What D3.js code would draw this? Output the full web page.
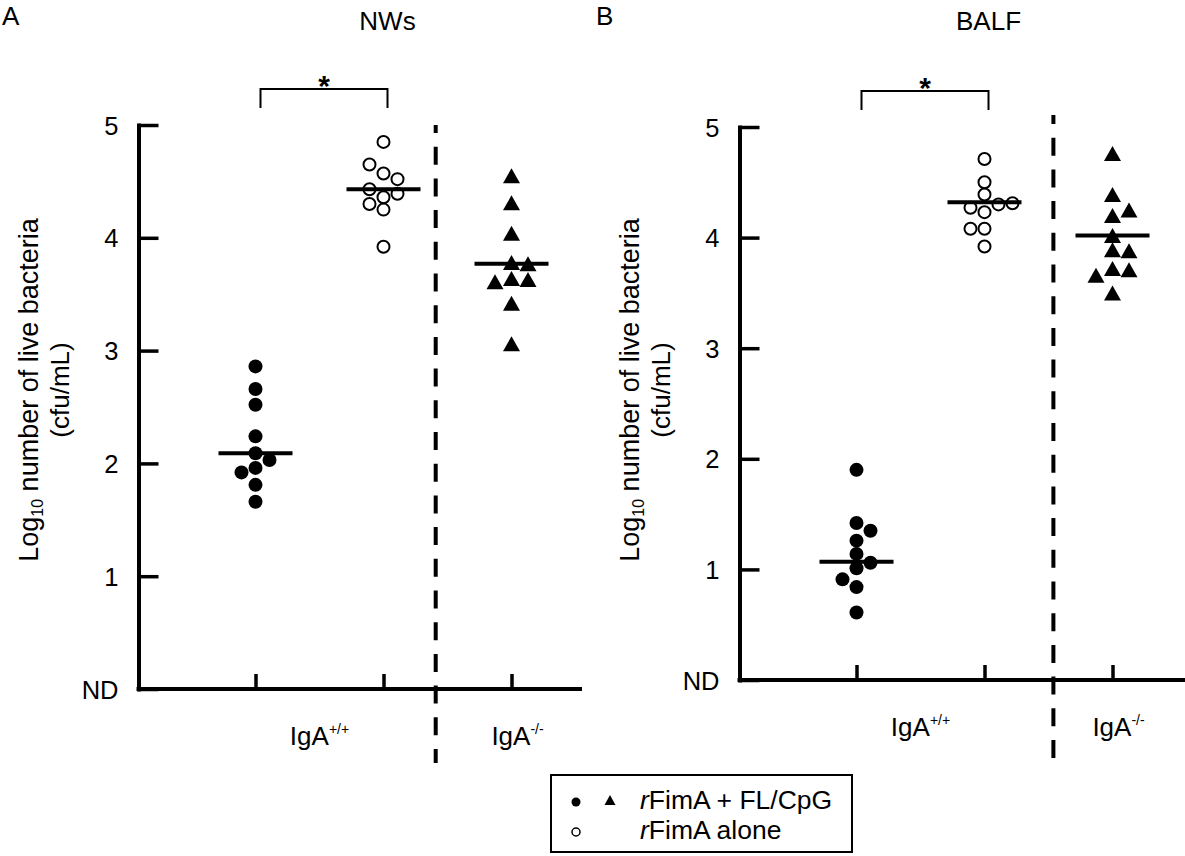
<!DOCTYPE html>
<html>
<head>
<meta charset="utf-8">
<script src="https://cdn.jsdelivr.net/npm/d3@7"></script>
<style>
  body { margin: 0; background: #fff; }
  svg { display: block; font-family: "Liberation Sans", Arial, Helvetica, sans-serif; }
</style>
</head>
<body>
<svg id="chart" width="1185" height="856"></svg>
<script>
// Groups along the x axis (same for both panels)
const groups = ["wt_flcpg", "wt_alone", "ko_flcpg"];
const yTicks = [0, 1, 2, 3, 4, 5]; // 0 is shown as ND
const panelLetters = ["A", "B"];
const panelTitles = ["NWs", "BALF"];
const genotypeSup = ["+/+", "-/-"];

// Panel A: nasal washes, log10 cfu/mL
const nwsFlCpg = [2.86, 2.66, 2.52, 2.24, 2.09, 2.03, 1.96, 1.92, 1.81, 1.66];
const nwsAlone = [4.85, 4.65, 4.57, 4.52, 4.43, 4.39, 4.36, 4.30, 4.25, 3.92];
const nwsKo = [4.55, 4.31, 4.04, 3.78, 3.77, 3.61, 3.64, 3.63, 3.42, 3.06];
const nwsMedians = [2.09, 4.43, 3.77];
// swarm column of each point (-1 left, 0 centre, 1 right ...)
const nwsFlCpgCol = [0, 0, 0, 0, 0, 1, 0, -1, 0, 0];
const nwsAloneCol = [0, -1, 0, 1, -1, 1, 0, -1, 0, 0];
const nwsKoCol = [0, 0, 0, 0, 1, -1, 0, 1, 0, 0];

// Panel B: BALF
const balfFlCpg = [1.90, 1.42, 1.35, 1.26, 1.14, 1.06, 1.01, 0.91, 0.84, 0.61];
const balfAlone = [4.71, 4.50, 4.39, 4.27, 4.23, 4.30, 4.31, 4.08, 4.08, 3.92];
const balfKo = [4.76, 4.39, 4.20, 4.25, 4.02, 3.89, 3.88, 3.66, 3.72, 3.71, 3.50];
const balfMedians = [1.07, 4.32, 4.02];
const balfFlCpgCol = [0, 0, 1, 0, 0, 1, 0, -1, 0, 0];
const balfAloneCol = [0, 0, 0, -1, 0, 1, 2, -1, 0, 0];
const balfKoCol = [0, 0, 0, 1, 0, 0, 1, -1, 0, 1, 0];

const legendLabels = ["FimA + FL/CpG", "FimA alone"];

const panelData = [
  { values: [nwsFlCpg, nwsAlone, nwsKo], cols: [nwsFlCpgCol, nwsAloneCol, nwsKoCol], medians: nwsMedians },
  { values: [balfFlCpg, balfAlone, balfKo], cols: [balfFlCpgCol, balfAloneCol, balfKoCol], medians: balfMedians }
];

// layout of each panel (pixels)
const layout = [
  { letterX: 2, left: 138.5, top: 125, bottom: 689, right: 582, divider: 435.7, dashTop: 125, dashBottom: 763, dashOffset: 10 },
  { letterX: 596, left: 739.5, top: 127, bottom: 680, right: 1185, divider: 1053.4, dashTop: 115, dashBottom: 758, dashOffset: 9 }
];

const svg = d3.select("#chart");
svg.append("rect").attr("width", 1185).attr("height", 856).attr("fill", "#fff");

const fontSize = 25.5;

function trianglePath(cx, cy) {
  const hw = 8.5, hh = 7.5;
  return `M${cx},${cy - hh}L${cx + hw},${cy + hh}L${cx - hw},${cy + hh}Z`;
}

function drawPanel(i) {
  const p = layout[i];
  const d = panelData[i];
  const g = svg.append("g");

  const y = d3.scaleLinear().domain([0, 5]).range([p.bottom, p.top]);
  const x = d3.scalePoint().domain(groups).range([p.left + 117, p.left + 373]);
  const circleCol = d3.scaleLinear().domain([0, 1]).range([0, 14]);
  const triCol = d3.scaleLinear().domain([0, 1]).range([0, 16.5]);

  // panel letter and title
  g.append("text").attr("x", p.letterX).attr("y", 25)
    .attr("font-size", 26).text(panelLetters[i]);
  g.append("text").attr("x", x(groups[1]) + 4).attr("y", 30)
    .attr("text-anchor", "middle").attr("font-size", 26).text(panelTitles[i]);

  // y axis, ticks point inwards
  const yAxis = d3.axisLeft(y)
    .tickValues(yTicks)
    .tickSizeInner(-20)
    .tickSizeOuter(0)
    .tickPadding(20)
    .tickFormat(v => v === 0 ? "ND" : v);
  const ya = g.append("g")
    .attr("transform", `translate(${p.left},0)`)
    .call(yAxis)
    .attr("font-family", null)
    .attr("font-size", null);
  ya.select(".domain").attr("stroke", "#000").attr("stroke-width", 4).attr("stroke-linecap", "square");
  ya.selectAll(".tick line").attr("stroke", "#000").attr("stroke-width", 3.5);
  ya.selectAll(".tick text").attr("fill", "#000").attr("font-size", fontSize).attr("dy", "0.36em");

  // x axis: baseline plus upward category ticks
  const xAxis = d3.axisBottom(x).tickSizeInner(-15).tickSizeOuter(0).tickFormat("");
  const xa = g.append("g")
    .attr("transform", `translate(0,${p.bottom})`)
    .call(xAxis);
  xa.select(".domain").remove();
  xa.selectAll(".tick line").attr("stroke", "#000").attr("stroke-width", 3.5);
  g.append("line")
    .attr("x1", p.left - 2).attr("x2", p.right)
    .attr("y1", p.bottom).attr("y2", p.bottom)
    .attr("stroke", "#000").attr("stroke-width", 4);

  // dashed divider between genotypes
  g.append("line")
    .attr("x1", p.divider).attr("x2", p.divider)
    .attr("y1", p.dashTop).attr("y2", p.dashBottom)
    .attr("stroke", "#000").attr("stroke-width", 4)
    .attr("stroke-dasharray", "18,13.7")
    .attr("stroke-dashoffset", p.dashOffset);

  // y axis title
  const yTitle = g.append("text")
    .attr("transform", `translate(${p.left - 101},390) rotate(-90)`)
    .attr("text-anchor", "middle").attr("font-size", 27);
  yTitle.append("tspan").text("Log");
  yTitle.append("tspan").attr("font-size", 16).attr("dy", 5).text("10");
  yTitle.append("tspan").attr("dy", -5).text(" number of live bacteria");
  g.append("text")
    .attr("transform", `translate(${p.left - 70},390) rotate(-90)`)
    .attr("text-anchor", "middle").attr("font-size", 26)
    .text("(cfu/mL)");

  // genotype labels
  const labelX = [(x(groups[0]) + x(groups[1])) / 2, x(groups[2]) + 6];
  labelX.forEach((lx, k) => {
    const t = g.append("text").attr("x", lx).attr("y", p.bottom + 56)
      .attr("text-anchor", "middle").attr("font-size", 26);
    t.append("tspan").text("IgA");
    t.append("tspan").attr("font-size", 14).attr("dy", -11).text(genotypeSup[k]);
  });

  // significance bracket between the two IgA+/+ groups
  const bx1 = x(groups[0]) + 5, bx2 = x(groups[1]) + 4;
  const by = p.top - 36;
  g.append("path")
    .attr("d", `M${bx1},${by + 19}V${by}H${bx2}V${by + 19}`)
    .attr("fill", "none").attr("stroke", "#000").attr("stroke-width", 2);
  g.append("text").attr("x", (bx1 + bx2) / 2).attr("y", by + 7)
    .attr("text-anchor", "middle").attr("font-size", 30).attr("font-weight", "bold").text("*");

  // points
  const pts = g.append("g");
  // filled circles, IgA+/+ with FL/CpG
  pts.selectAll(".fc").data(d.values[0].map((v, k) => ({ v, c: d.cols[0][k] })))
    .enter().append("circle")
    .attr("cx", e => x(groups[0]) + circleCol(e.c))
    .attr("cy", e => y(e.v))
    .attr("r", 7).attr("fill", "#000");
  // open circles, rFimA alone
  pts.selectAll(".oc").data(d.values[1].map((v, k) => ({ v, c: d.cols[1][k] })))
    .enter().append("circle")
    .attr("cx", e => x(groups[1]) + circleCol(e.c))
    .attr("cy", e => y(e.v))
    .attr("r", 6).attr("fill", "none").attr("stroke", "#000").attr("stroke-width", 2);
  // triangles, IgA-/- with FL/CpG
  pts.selectAll(".tr").data(d.values[2].map((v, k) => ({ v, c: d.cols[2][k] })))
    .enter().append("path")
    .attr("d", e => trianglePath(x(groups[2]) + triCol(e.c), y(e.v)))
    .attr("fill", "#000");

  // median bars
  g.selectAll(".median").data(d.medians).enter().append("line")
    .attr("x1", (m, k) => x(groups[k]) - 37)
    .attr("x2", (m, k) => x(groups[k]) + 37)
    .attr("y1", m => y(m)).attr("y2", m => y(m))
    .attr("stroke", "#000").attr("stroke-width", 4);
}

drawPanel(0);
drawPanel(1);

// legend
const lg = svg.append("g");
lg.append("rect").attr("x", 551).attr("y", 775).attr("width", 301).attr("height", 77)
  .attr("fill", "#fff").attr("stroke", "#000").attr("stroke-width", 2);
lg.append("circle").attr("cx", 576).attr("cy", 802).attr("r", 4.5).attr("fill", "#000");
lg.append("path").attr("d", "M610,795L615.5,805L604.5,805Z").attr("fill", "#000");
lg.append("circle").attr("cx", 576).attr("cy", 832).attr("r", 4).attr("fill", "none")
  .attr("stroke", "#000").attr("stroke-width", 1.5);
legendLabels.forEach((lab, k) => {
  const t = lg.append("text").attr("x", 640).attr("y", 809 + k * 30).attr("font-size", 26.5);
  t.append("tspan").attr("font-style", "italic").text("r");
  t.append("tspan").text(lab);
});
</script>
</body>
</html>
